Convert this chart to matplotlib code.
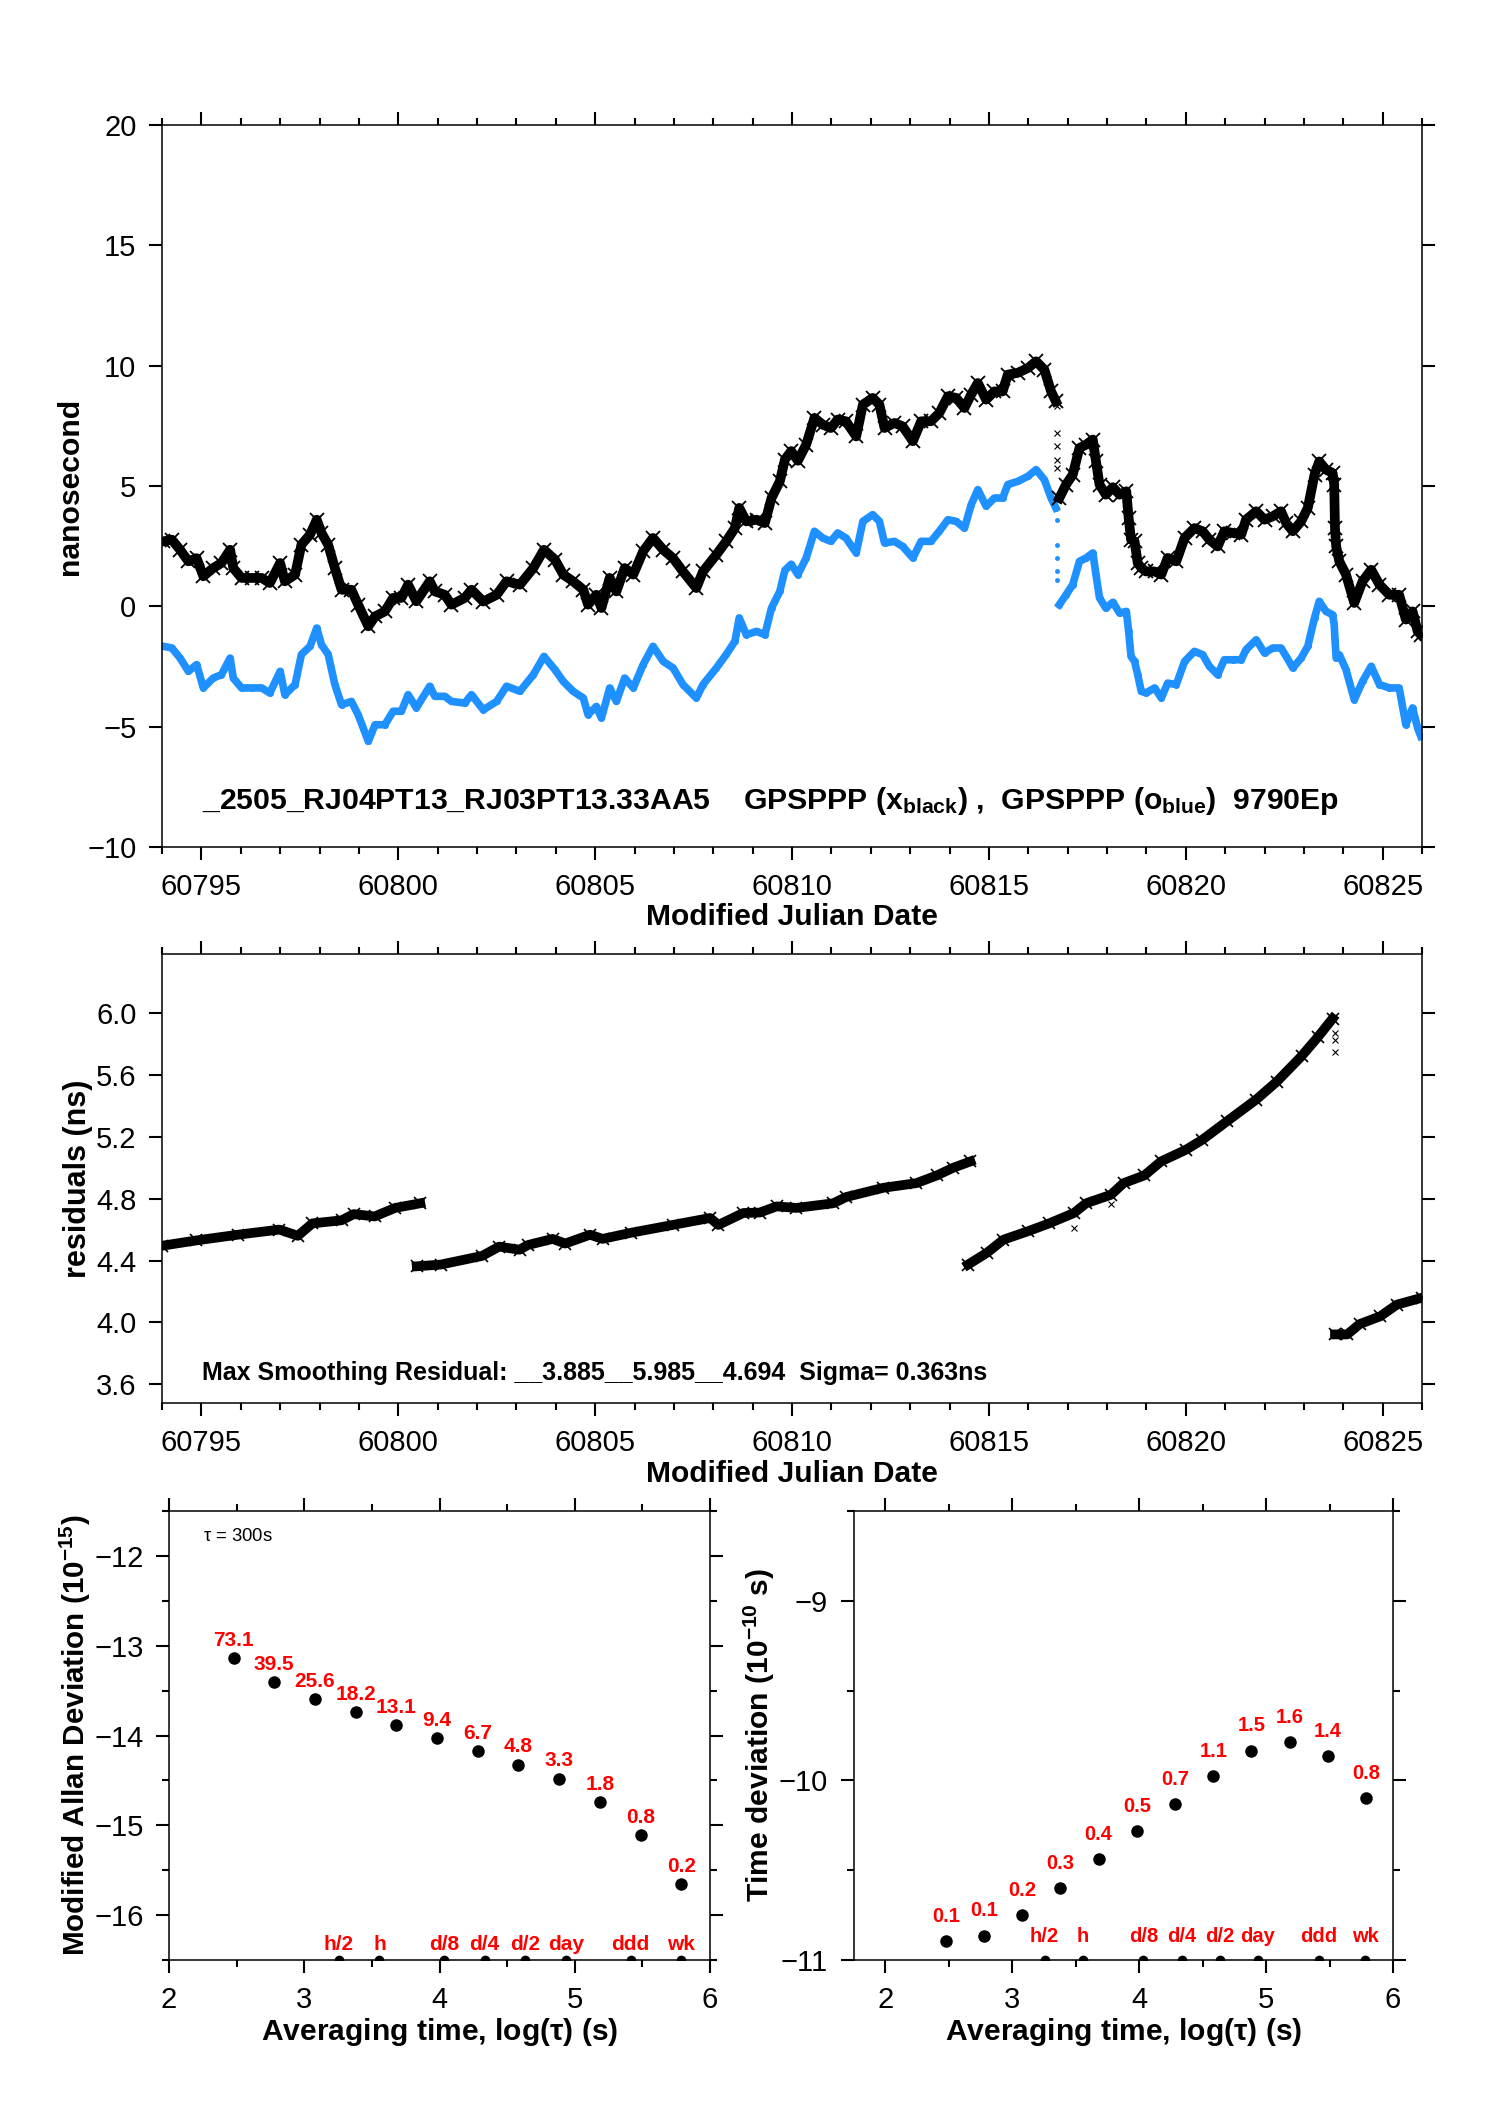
import numpy as np
import matplotlib
matplotlib.use('Agg')
import matplotlib.pyplot as plt
from matplotlib.ticker import MultipleLocator, FormatStrFormatter

plt.rcParams['font.family'] = ['Liberation Sans', 'DejaVu Sans']
plt.rcParams['axes.linewidth'] = 1.1

# --- верхний график: время, нс (x = MJD) ---
mjd = [60794.03, 60794.25, 60794.46, 60794.67, 60794.88, 60795.05, 60795.30, 60795.51, 60795.73, 60795.81,
       60796.02, 60796.28, 60796.53, 60796.74, 60797.00, 60797.12, 60797.38, 60797.54, 60797.76, 60797.93,
       60798.05, 60798.22, 60798.39, 60798.56, 60798.81, 60798.98, 60799.24, 60799.41, 60799.66, 60799.87,
       60800.08, 60800.25, 60800.46, 60800.80, 60800.93, 60801.18, 60801.35, 60801.69, 60801.86, 60802.16,
       60802.50, 60802.75, 60803.09, 60803.43, 60803.70, 60803.98, 60804.19, 60804.44, 60804.70, 60804.82,
       60805.03, 60805.16, 60805.37, 60805.54, 60805.75, 60805.97, 60806.22, 60806.47, 60806.73, 60806.98,
       60807.23, 60807.57, 60807.74, 60808.08, 60808.33, 60808.55, 60808.66, 60808.84, 60809.10, 60809.31,
       60809.48, 60809.69, 60809.82, 60809.98, 60810.15, 60810.36, 60810.57, 60810.78, 60810.99, 60811.16,
       60811.37, 60811.63, 60811.80, 60812.05, 60812.22, 60812.35, 60812.60, 60812.81, 60813.07, 60813.28,
       60813.53, 60813.74, 60813.96, 60814.17, 60814.38, 60814.55, 60814.72, 60814.93, 60815.14, 60815.35,
       60815.48, 60815.73, 60815.99, 60816.20, 60816.41, 60816.58, 60816.70, 60816.73, 60816.79, 60816.96,
       60817.13, 60817.30, 60817.47, 60817.64, 60817.72, 60817.81, 60817.97, 60818.15, 60818.32, 60818.49,
       60818.55, 60818.61, 60818.70, 60818.78, 60818.87, 60818.99, 60819.21, 60819.38, 60819.54, 60819.76,
       60819.97, 60820.22, 60820.43, 60820.60, 60820.81, 60820.98, 60821.19, 60821.41, 60821.53, 60821.79,
       60822.00, 60822.21, 60822.42, 60822.55, 60822.72, 60822.93, 60823.10, 60823.27, 60823.39, 60823.56,
       60823.73, 60823.77, 60823.79, 60823.82, 60823.90, 60824.07, 60824.28, 60824.49, 60824.71, 60824.92,
       60825.17, 60825.42, 60825.59, 60825.76, 60825.89, 60825.97]

nan = np.nan
black_ns = [2.70, 2.77, 2.35, 1.87, 2.00, 1.25, 1.59, 1.80, 2.35, 1.59,
            1.18, 1.18, 1.18, 0.97, 1.80, 1.04, 1.32, 2.56, 2.98, 3.60,
            3.05, 2.56, 1.59, 0.69, 0.69, 0.07, -0.83, -0.42, -0.21, 0.35,
            0.35, 0.90, 0.21, 1.04, 0.62, 0.48, 0.07, 0.35, 0.69, 0.20,
            0.48, 1.04, 0.90, 1.59, 2.35, 1.94, 1.32, 1.04, 0.69, 0.07,
            0.48, -0.07, 1.18, 0.62, 1.59, 1.32, 2.29, 2.84, 2.35, 2.00,
            1.45, 0.76, 1.45, 2.15, 2.70, 3.25, 4.09, 3.53, 3.60, 3.46,
            4.50, 5.19, 6.10, 6.45, 6.05, 6.72, 7.83, 7.55, 7.41, 7.76,
            7.69, 7.06, 8.38, 8.66, 8.38, 7.41, 7.62, 7.48, 6.86, 7.69,
            7.69, 8.03, 8.73, 8.66, 8.24, 8.80, 9.28, 8.59, 8.93, 8.93,
            9.63, 9.70, 9.90, 10.18, 9.83, 8.93, 8.52, nan, 4.50, 5.06,
            5.47, 6.58, 6.72, 6.93, 6.02, 5.06, 4.64, 4.95, 4.64, 4.78,
            3.67, 2.77, 2.70, 1.80, 1.60, 1.45, 1.45, 1.32, 2.01, 1.87,
            2.84, 3.25, 3.12, 2.77, 2.49, 3.12, 3.05, 2.98, 3.60, 3.95,
            3.60, 3.74, 3.95, 3.46, 3.12, 3.53, 4.09, 5.47, 6.02, 5.68,
            5.54, 5.06, 3.25, 2.49, 1.87, 1.32, 0.14, 1.04, 1.52, 0.90,
            0.48, 0.48, -0.55, -0.21, -1.04, -1.18]

blue_ns = [-1.66, -1.73, -2.15, -2.70, -2.42, -3.39, -2.98, -2.84, -2.15, -2.98,
           -3.39, -3.39, -3.39, -3.60, -2.70, -3.67, -3.25, -2.00, -1.66, -0.90,
           -1.59, -2.00, -3.25, -4.09, -3.95, -4.50, -5.61, -4.92, -4.92, -4.36,
           -4.36, -3.67, -4.22, -3.32, -3.74, -3.74, -3.95, -4.02, -3.67, -4.30,
           -3.95, -3.32, -3.53, -2.84, -2.08, -2.63, -3.12, -3.53, -3.81, -4.50,
           -4.16, -4.64, -3.39, -3.95, -2.98, -3.39, -2.42, -1.66, -2.29, -2.56,
           -3.25, -3.81, -3.25, -2.56, -2.00, -1.45, -0.48, -1.18, -1.04, -1.18,
           -0.07, 0.62, 1.50, 1.75, 1.32, 2.01, 3.12, 2.84, 2.70, 3.05,
           2.84, 2.22, 3.53, 3.81, 3.53, 2.63, 2.70, 2.49, 2.01, 2.70,
           2.70, 3.12, 3.60, 3.53, 3.25, 4.22, 4.85, 4.16, 4.50, 4.50,
           5.06, 5.19, 5.40, 5.68, 5.26, 4.50, 4.09, nan, 0.07, 0.48,
           0.90, 1.87, 2.01, 2.22, 1.32, 0.35, -0.07, 0.17, -0.28, -0.21,
           -1.04, -2.08, -2.29, -2.84, -3.53, -3.60, -3.39, -3.81, -3.19, -3.25,
           -2.29, -1.87, -2.01, -2.49, -2.84, -2.22, -2.22, -2.22, -1.80, -1.39,
           -1.94, -1.73, -1.73, -2.08, -2.56, -2.15, -1.66, -0.48, 0.21, -0.21,
           -0.35, -0.76, -1.39, -2.15, -2.01, -2.63, -3.88, -3.12, -2.49, -3.25,
           -3.39, -3.39, -4.92, -4.22, -5.06, -5.40]

# редкие точки в разрыве
gap_mjd = [60816.73, 60816.73, 60816.73, 60816.73, 60816.73]
gap_black = [8.31, 7.20, 6.65, 6.09, 5.75]
gap_blue = [3.60, 2.56, 2.01, 1.45, 1.11]

title_txt = (r'_2505_RJ04PT13_RJ03PT13.33AA5    GPSPPP ($\mathregular{x_{black}}$) ,  '
             r'GPSPPP ($\mathregular{o_{blue}}$)  9790Ep')

# --- средний график: остатки ---
res_mjd_1 = [60794.01, 60794.87, 60795.93, 60796.98, 60797.45, 60797.82, 60798.56, 60798.87, 60799.40,
             60799.92, 60800.56]
res_1 = [4.496, 4.53, 4.567, 4.60, 4.56, 4.64, 4.66, 4.70, 4.685, 4.74, 4.77]
res_mjd_2 = [60800.47, 60801.08, 60802.13, 60802.56, 60803.08, 60803.29, 60803.92, 60804.24, 60804.87,
             60805.19, 60805.92, 60806.97, 60807.92, 60808.13, 60808.76, 60809.18, 60809.61, 60810.11,
             60811.05, 60811.37, 60812.32, 60813.16, 60813.68, 60814.10, 60814.53]
res_2 = [4.363, 4.374, 4.43, 4.49, 4.47, 4.50, 4.54, 4.51, 4.567, 4.54, 4.58, 4.63, 4.675, 4.63, 4.707,
         4.71, 4.75, 4.74, 4.77, 4.81, 4.87, 4.90, 4.95, 5.00, 5.04]
res_mjd_3 = [60814.47, 60814.95, 60815.37, 60816.00, 60816.53, 60817.16, 60817.47, 60818.10, 60818.42,
             60818.95, 60819.37, 60820.00, 60820.42, 60821.05, 60821.79, 60822.31, 60822.94, 60823.36,
             60823.73]
res_3 = [4.374, 4.45, 4.535, 4.59, 4.64, 4.707, 4.77, 4.825, 4.90, 4.95, 5.04, 5.115, 5.18, 5.30, 5.44,
         5.555, 5.72, 5.845, 5.963]
res_mjd_4 = [60823.79, 60824.10, 60824.42, 60824.94, 60825.36, 60826.00]
res_4 = [3.923, 3.923, 3.99, 4.04, 4.115, 4.16]
res_out_mjd = [60817.16, 60818.10, 60823.79, 60823.79, 60823.79]
res_out = [4.61, 4.765, 5.867, 5.824, 5.744]
res_txt = 'Max Smoothing Residual: __3.885__5.985__4.694  Sigma= 0.363ns'

# --- нижние графики: MDEV и TDEV ---
log_tau = [2.477, 2.778, 3.079, 3.380, 3.681, 3.982, 4.283, 4.584, 4.885, 5.186, 5.487, 5.788]
mdev = [-13.14, -13.405, -13.594, -13.743, -13.884, -14.033, -14.178, -14.323, -14.481, -14.74,
        -15.113, -15.653]
mdev_lbl = ['73.1', '39.5', '25.6', '18.2', '13.1', '9.4', '6.7', '4.8', '3.3', '1.8', '0.8', '0.2']
tdev = [-10.895, -10.864, -10.75, -10.598, -10.438, -10.284, -10.131, -9.975, -9.834, -9.788,
        -9.865, -10.10]
tdev_lbl = ['0.1', '0.1', '0.2', '0.3', '0.4', '0.5', '0.7', '1.1', '1.5', '1.6', '1.4', '0.8']
mark_tau = [3.255, 3.556, 4.033, 4.334, 4.635, 4.936, 5.414, 5.782]
mark_lbl = ['h/2', 'h', 'd/8', 'd/4', 'd/2', 'day', 'ddd', 'wk']

W, H = 1488, 2105


def box(l, t, r, b):
    # пиксели -> доли фигуры
    return [l / W, 1 - b / H, (r - l) / W, (b - t) / H]


def frame(ax, xmaj, xmin, ymaj, ymin=None, size=21, xpad=10):
    ax.xaxis.set_major_locator(MultipleLocator(xmaj))
    ax.xaxis.set_minor_locator(MultipleLocator(xmin))
    ax.yaxis.set_major_locator(MultipleLocator(ymaj))
    if ymin:
        ax.yaxis.set_minor_locator(MultipleLocator(ymin))
    ax.tick_params(which='both', direction='out', left=True, right=True, top=True, bottom=True,
                   width=1.5, labelsize=size)
    ax.tick_params(which='major', length=9.4)
    ax.tick_params(which='minor', length=5)
    ax.tick_params(axis='y', pad=9)
    ax.tick_params(axis='x', pad=xpad)


fig = plt.figure(figsize=(W / 100, H / 100), dpi=100)

# верхний график
ax1 = fig.add_axes(box(162, 125, 1422, 847))
ax1.plot(mjd, blue_ns, color='#1e90ff', lw=5.5)
ax1.plot(mjd, blue_ns, 'o', color='#1e90ff', ms=4)
ax1.plot(gap_mjd, gap_blue, 'o', color='#1e90ff', ms=2.5)
ax1.plot(mjd, black_ns, color='black', lw=7)
ax1.plot(mjd, black_ns, 'x', color='black', ms=10, mew=1.3)
ax1.plot(gap_mjd, gap_black, 'x', color='black', ms=4, mew=0.8)
ax1.set_xlim(60794, 60826)
ax1.set_ylim(-10, 20)
frame(ax1, 5, 1, 5, xpad=9)
ax1.set_xlabel('Modified Julian Date', fontsize=21.6, fontweight='bold')
ax1.xaxis.set_label_coords(0.5, -0.077)
ax1.set_ylabel('nanosecond', fontsize=21.7, fontweight='bold')
ax1.yaxis.set_label_coords(-0.062, 0.5)
ax1.text(0.0317, 0.053, title_txt, transform=ax1.transAxes, fontsize=21.7, fontweight='bold',
         va='baseline', ha='left')

# средний график
ax2 = fig.add_axes(box(162, 954, 1422, 1403))
for xs, ys in [(res_mjd_1, res_1), (res_mjd_2, res_2), (res_mjd_3, res_3), (res_mjd_4, res_4)]:
    ax2.plot(xs, ys, color='black', lw=7)
    ax2.plot(xs, ys, 'x', color='black', ms=8, mew=1.2)
ax2.plot(res_out_mjd, res_out, 'x', color='black', ms=4, mew=0.8)
ax2.set_xlim(60794, 60826)
ax2.set_ylim(3.48, 6.38)
frame(ax2, 5, 1, 0.4, xpad=9.5)
ax2.yaxis.set_major_formatter(FormatStrFormatter('%.1f'))
ax2.set_xlabel('Modified Julian Date', fontsize=21.6, fontweight='bold')
ax2.xaxis.set_label_coords(0.5, -0.127)
ax2.set_ylabel('residuals (ns)', fontsize=22, fontweight='bold')
ax2.yaxis.set_label_coords(-0.055, 0.5)
ax2.text(0.0317, 0.051, res_txt, transform=ax2.transAxes, fontsize=18, fontweight='bold',
         va='baseline', ha='left')

# нижний левый: MDEV
ax3 = fig.add_axes(box(169, 1511, 710, 1960))
ax3.plot(log_tau, mdev, 'o', color='black', ms=8)
for x, y, s in zip(log_tau, mdev, mdev_lbl):
    ax3.annotate(s, (x, y), xytext=(0, 6), textcoords='offset points', ha='center', va='bottom',
                 color='red', fontsize=15, fontweight='bold')
ax3.set_xlim(2, 6)
ax3.set_ylim(-16.5, -11.5)
ax3.plot(mark_tau, [-16.5] * len(mark_tau), 'o', color='black', ms=6)
for x, s in zip(mark_tau, mark_lbl):
    ax3.annotate(s, (x, -16.5), xytext=(0, 4), textcoords='offset points', ha='center',
                 va='bottom', color='red', fontsize=15, fontweight='bold')
frame(ax3, 1, 0.5, 1, 0.5, xpad=9)
ax3.set_xlabel(r'Averaging time, log($\mathregular{\tau}$) (s)', fontsize=21.6, fontweight='bold')
ax3.xaxis.set_label_coords(0.5, -0.124)
ax3.set_ylabel(r'Modified Allan Deviation ($\mathregular{10^{-15}}$)', fontsize=21.3,
               fontweight='bold')
ax3.yaxis.set_label_coords(-0.14, 0.5)
ax3.text(0.062, 0.944, r'$\mathregular{\tau}$ = 300s', transform=ax3.transAxes, fontsize=13.3,
         va='center', ha='left')

# нижний правый: TDEV
ax4 = fig.add_axes(box(853.5, 1511, 1393, 1960))
ax4.plot(log_tau, tdev, 'o', color='black', ms=8)
for x, y, s in zip(log_tau, tdev, tdev_lbl):
    ax4.annotate(s, (x, y), xytext=(0, 11), textcoords='offset points', ha='center', va='bottom',
                 color='red', fontsize=14.5, fontweight='bold')
ax4.set_xlim(1.75, 6)
ax4.set_ylim(-11, -8.5)
ax4.plot(mark_tau, [-11] * len(mark_tau), 'o', color='black', ms=6)
for x, s in zip(mark_tau, mark_lbl):
    ax4.annotate(s, (x, -11), xytext=(0, 10), textcoords='offset points', ha='center',
                 va='bottom', color='red', fontsize=14.5, fontweight='bold')
frame(ax4, 1, 0.5, 1, 0.5, xpad=9)
ax4.set_xlabel(r'Averaging time, log($\mathregular{\tau}$) (s)', fontsize=21.6, fontweight='bold')
ax4.xaxis.set_label_coords(0.5, -0.124)
ax4.set_ylabel(r'Time deviation ($\mathregular{10^{-10}}$ s)', fontsize=21.6, fontweight='bold')
ax4.yaxis.set_label_coords(-0.142, 0.5)

fig.savefig('out.png', dpi=100)
